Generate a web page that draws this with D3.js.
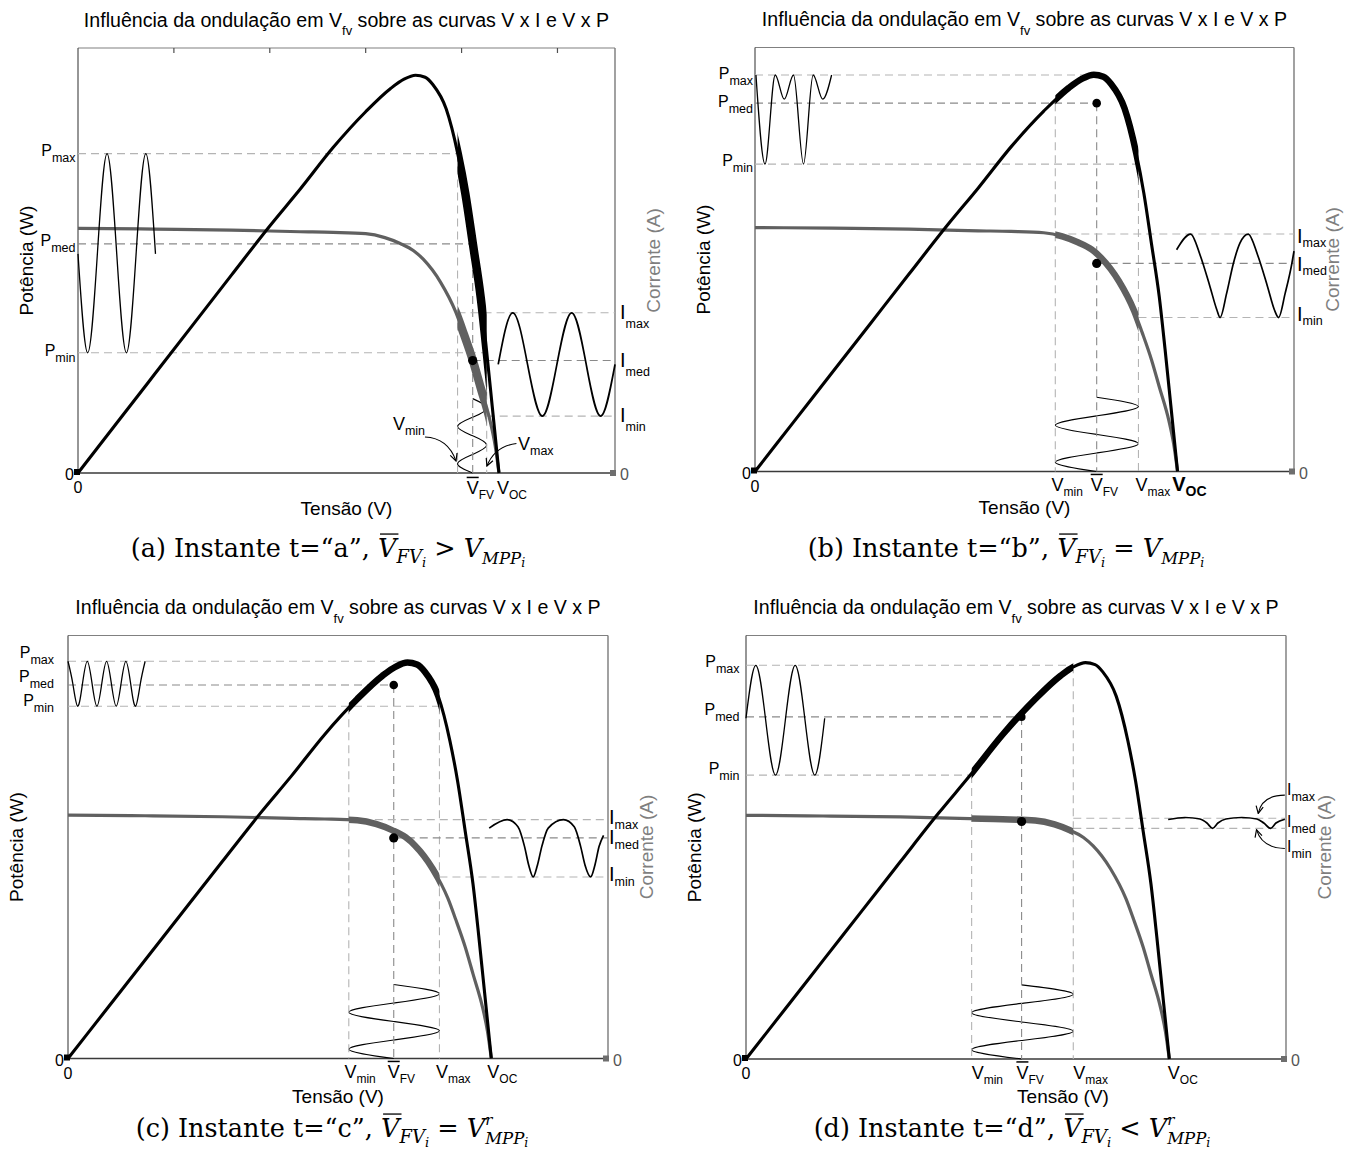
<!DOCTYPE html>
<html>
<head>
<meta charset="utf-8">
<script src="https://cdn.jsdelivr.net/npm/d3@7"></script>
<style>
  body { margin: 0; background: #fff; }
  svg { display: block; }
</style>
</head>
<body>
<svg id="fig" width="1354" height="1160"></svg>
<script>
// ---------------- PV module characteristic ----------------
// Power curve: [voltage (V), power (W)]
const curvePV = [[0,0],[2,7.45],[4,14.9],[6,22.35],[8,29.8],[10,37.2],[11.6,42.8],[13.3,49.0],
  [15.0,54.4],[16.3,57.9],[17.0,59.3],[17.6,59.9],[18.1,59.6],[18.5,58.5],[19.2,54.8],[19.8,48.1],
  [20.2,42.0],[20.6,34.3],[21.0,26.4],[21.3,18.5],[21.6,10.0],[21.95,0]];
// Current curve: [voltage (V), current (A)]
const curveVI = [[0,3.74],[4,3.73],[8,3.715],[11.6,3.69],[13.3,3.68],[15.0,3.66],[16.0,3.6],
  [16.8,3.51],[17.5,3.40],[18.0,3.27],[18.9,2.92],[19.7,2.46],[20.1,2.14],[20.6,1.71],[21.0,1.3],
  [21.5,0.78],[21.75,0.42],[21.95,0]];
const vOC = 21.95;
const vTicks = [5, 10, 15, 20, 25];

// ---------------- operating point of each instant (a, b, c, d) ----------------
const instants = ['a', 'b', 'c', 'd'];
const relation = ['>', '=', '=', '<'];
const refIsR   = [false, false, true, true];
const vMin = [19.79, 15.60, 14.56, 11.70];
const vBar = [20.58, 17.75, 16.89, 14.29];
const vMax = [21.31, 19.92, 19.26, 16.97];
const pMax = [48.1, 59.85, 60.1, 59.5];
const pMed = [34.5, 55.6, 56.5, 51.7];
const pMin = [18.1, 46.4, 53.3, 42.9];
const iMax = [2.45, 3.64, 3.67, 3.695];
const iMed = [1.72, 3.19, 3.39, 3.645];
const iMin = [0.87, 2.36, 2.79, 3.54];

// ---------------- ripple waveforms ----------------
// power ripple drawn against the voltage axis: [V, P]
const pRippleA = [[0,33],[0.505,18.1],[1.01,33],[1.515,48.1],[2.02,33],[2.525,18.1],[3.03,33],[3.535,48.1],[4.04,33]];
const pRippleB = [[0.05,59.85],[0.52,46.4],[1.05,59.85],[1.52,56.2],[2.0,59.85],[2.52,46.4],[3.02,59.85],[3.52,56.2],[3.98,59.85]];
const pRippleC = [[0,60.1],[0.25,56.7],[0.5,53.3],[0.75,56.7],[1.0,60.1],[1.25,56.7],[1.5,53.3],[1.75,56.7],
  [2.0,60.1],[2.25,56.7],[2.5,53.3],[2.75,56.7],[3.0,60.1],[3.25,56.7],[3.5,53.3],[3.75,56.7],[4.0,60.1]];
const pRippleD = [[0,51.5],[0.51,59.5],[1.02,51.2],[1.53,42.9],[2.04,51.2],[2.55,59.5],[3.06,51.2],[3.57,42.9],[4.08,51.5]];
// current ripple: [V, I]
const iRippleA = [[21.91,1.66],[22.67,2.45],[23.44,1.66],[24.21,0.87],[24.97,1.66],[25.74,2.45],[26.5,1.66],[27.25,0.87],[28.0,1.66]];
const iRippleB = [[21.9,3.40],[22.63,3.64],[23.12,3.32],[23.64,2.83],[23.99,2.48],[24.16,2.36],[24.5,2.73],[24.85,3.19],
  [25.19,3.50],[25.62,3.64],[26.11,3.32],[26.63,2.83],[26.98,2.48],[27.2,2.36],[27.54,2.73],[27.89,3.19],[28.0,3.38]];
const iRippleC = [[21.84,3.54],[22.77,3.67],[23.33,3.56],[23.67,3.26],[23.89,2.97],[24.12,2.79],[24.34,2.97],[24.57,3.26],
  [24.9,3.54],[25.69,3.67],[26.25,3.56],[26.58,3.26],[26.81,2.97],[27.1,2.79],[27.32,2.97],[27.54,3.26],[27.77,3.43]];
const iRippleD = [[21.89,3.676],[22.76,3.707],[23.54,3.684],[23.9,3.622],[24.19,3.541],[24.47,3.622],[24.88,3.684],
  [25.71,3.707],[26.49,3.684],[26.85,3.622],[27.2,3.541],[27.48,3.622],[27.94,3.68]];
// voltage ripple drawn upward from the voltage axis: time in power-axis units
const vRippleTime  = [0, 1.4, 2.8, 4.2, 5.6, 7.0, 8.4, 9.8, 11.2];
const vRipplePhase = ['bar','min','bar','max','bar','min','bar','max','bar'];

const pRipple = [pRippleA, pRippleB, pRippleC, pRippleD];
const iRipple = [iRippleA, iRippleB, iRippleC, iRippleD];

// ---------------- layout of the four axes ----------------
const SANS = 'Liberation Sans, Arial, Helvetica, sans-serif';
const SERIF = 'DejaVu Serif, serif';
const GRAY = '#606060';

const frames = [
  { x0: 78,  x1: 615,  yTop: 48,    yBot: 473 },
  { x0: 755, x1: 1294, yTop: 47.5,  yBot: 471.5 },
  { x0: 68,  x1: 608,  yTop: 635.5, yBot: 1058.5 },
  { x0: 746, x1: 1286, yTop: 635.5, yBot: 1059 }
];

const style = [
  { pCurve: 'natural',  iCurve: 'natural',  thick: 8.5,
    pDashEnd: ['min','bar','max'], vDashTop: ['max','med','min'], iDashStart: ['min','bar','max'],
    pLab: { dx: -2.5, dy: [2, 2.5, 3] }, iLab: { dx: 5, dy: [6, 6, 6], size: 20, sub: 9 },
    vLab: [['bar', 0], ['oc', 4]], tensaoDx: 0, tensaoDy: 42, vLabDy: 21, ticks: true, pDotR: 3, capX: 328, capY: 557 },
  { pCurve: 'monotone', iCurve: 'monotone', thick: 6.5,
    pDashEnd: [17.5,'bar','max'], vDashTop: ['med','med','min'], iDashStart: ['min','bar','max'],
    pLab: { dx: -2, dy: [3.6, 4, 1.7] }, iLab: { dx: 3, dy: [8.7, 7.7, 3.7], size: 20, sub: 4 },
    vLab: [['min', 2.3], ['bar', 0], ['max', 3], ['oc', 1.3, true]], tensaoDx: 0, tensaoDy: 42.5, vLabDy: 19.5, ticks: false, pDotR: 4.3, capX: 1006, capY: 557 },
  { pCurve: 'natural',  iCurve: 'monotone', thick: 6.5,
    pDashEnd: [17.5,'bar','max'], vDashTop: ['min','med','min'], iDashStart: ['min','bar','max'],
    pLab: { dx: -14, dy: [-3.7, -3, -0.7] }, iLab: { dx: 1, dy: [4.6, 6.6, 4.5], size: 20, sub: 5 },
    vLab: [['min', 1.6], ['bar', 0], ['max', 2.5], ['oc', 2]], tensaoDx: 0, tensaoDy: 44.5, vLabDy: 19.5, ticks: false, pDotR: 4.3, capX: 332, capY: 1137 },
  { pCurve: 'natural',  iCurve: 'monotone', thick: 6.5,
    pDashEnd: ['max','bar','min'], vDashTop: ['min','med','max'], iDashStart: ['max', null, 'max'],
    pLab: { dx: -6.5, dy: [2, -2, -1] }, iLab: { dx: 1, dy: [-23.3, 5.5, 23.7], size: 16, sub: 6 },
    vLab: [['min', 6], ['bar', 0.8], ['max', 6], ['oc', 4.5]], tensaoDx: 47, tensaoDy: 43.5, vLabDy: 19.5, ticks: false, pDotR: 4, capX: 1012, capY: 1137 }
];

// annotation arrows in data units ([V, P] for panel a, [V, I] for panel d)
const arrowsA = [
  { from: [18.09, 5.42], ctrl: [19.29, 5.27], to: [19.71, 1.81] },
  { from: [22.86, 4.44], ctrl: [21.74, 4.07], to: [21.32, 1.05] }
];
const arrowLabelsA = [{ at: [16.42, 6.47], sub: 'min' }, { at: [22.94, 3.46], sub: 'max' }];
const arrowsD = [
  { from: [27.94, 4.05], ctrl: [26.75, 4.05], to: [26.56, 3.77] },
  { from: [27.94, 3.23], ctrl: [26.75, 3.24], to: [26.47, 3.52] }
];

const svg = d3.select('#fig');
const defs = svg.append('defs');
defs.append('marker')
  .attr('id', 'arrowOpen').attr('viewBox', '0 0 10 10')
  .attr('refX', 9).attr('refY', 5)
  .attr('markerWidth', 9).attr('markerHeight', 9)
  .attr('markerUnits', 'userSpaceOnUse').attr('orient', 'auto')
  .append('path').attr('d', 'M1,1 L9,5 L1,9')
  .attr('fill', 'none').attr('stroke', '#000').attr('stroke-width', 1.3);

// text made of runs (subscripts, superscripts, overlines)
function rich(parent, pieces, x, y, anchor, fam, fill) {
  const g = parent.append('g');
  let cx = 0, lastStart = 0, firstW = 0;
  pieces.forEach((p, k) => {
    const startX = p.back ? lastStart : cx;
    const t = g.append('text')
      .attr('x', startX).attr('y', y + (p.dy || 0))
      .attr('font-family', p.ff || fam)
      .attr('font-size', p.s)
      .attr('font-style', p.it ? 'italic' : null)
      .attr('font-weight', p.b ? 'bold' : null)
      .attr('fill', fill || '#000')
      .style('white-space', 'pre')
      .text(p.t);
    const w = t.node().getComputedTextLength();
    if (p.ov) {
      const oy = y + (p.dy || 0) - p.s * (p.ovy || 0.93);
      g.append('line')
        .attr('x1', startX + (p.ovdx || 0)).attr('x2', startX + w + (p.ovdx || 0))
        .attr('y1', oy).attr('y2', oy)
        .attr('stroke', fill || '#000').attr('stroke-width', p.ovw || 1.3);
    }
    if (k === 0) firstW = w;
    if (!p.back) lastStart = startX;
    cx = p.back ? Math.max(cx, startX + w) : startX + w;
  });
  let shift = 0;
  if (anchor === 'middle') shift = -cx / 2;
  else if (anchor === 'end') shift = -cx;
  else if (anchor === 'first') shift = -firstW / 2;
  g.attr('transform', `translate(${x + shift},0)`);
  return g;
}

const curveOf = name => name === 'natural' ? d3.curveNatural : d3.curveMonotoneX;

instants.forEach((id, k) => {
  const f = frames[k], st = style[k];
  const x  = d3.scaleLinear().domain([0, 28]).range([f.x0, f.x1]);
  const yP = d3.scaleLinear().domain([0, 64]).range([f.yBot, f.yTop]);
  const yI = d3.scaleLinear().domain([0, 6.5]).range([f.yBot, f.yTop]);
  const g = svg.append('g').attr('class', 'panel-' + id);

  const vOf = key => typeof key === 'number' ? key :
    ({ min: vMin[k], bar: vBar[k], max: vMax[k] })[key];
  const pOf = key => ({ max: pMax[k], med: pMed[k], min: pMin[k] })[key];

  // frame
  g.append('line').attr('x1', f.x0).attr('x2', f.x1).attr('y1', f.yTop).attr('y2', f.yTop)
    .attr('stroke', '#808080').attr('stroke-width', 1.2);
  g.append('line').attr('x1', f.x0).attr('x2', f.x0).attr('y1', f.yTop).attr('y2', f.yBot)
    .attr('stroke', '#505050').attr('stroke-width', 1.2);
  g.append('line').attr('x1', f.x1).attr('x2', f.x1).attr('y1', f.yTop).attr('y2', f.yBot)
    .attr('stroke', '#7a7a7a').attr('stroke-width', 1.4);
  g.append('line').attr('x1', f.x0).attr('x2', f.x1).attr('y1', f.yBot).attr('y2', f.yBot)
    .attr('stroke', '#3a3a3a').attr('stroke-width', 1.4);
  if (st.ticks) {
    g.selectAll('.tick').data(vTicks).join('line')
      .attr('x1', d => x(d)).attr('x2', d => x(d))
      .attr('y1', f.yTop).attr('y2', f.yTop + 5)
      .attr('stroke', '#505050').attr('stroke-width', 1.2);
  }

  // voltage ripple
  const vWave = vRippleTime.map((t, j) => [vOf(vRipplePhase[j]), t]);
  g.append('path').datum(vWave)
    .attr('d', d3.line().x(d => x(d[0])).y(d => yP(d[1])).curve(d3.curveNatural))
    .attr('fill', 'none').attr('stroke', '#000').attr('stroke-width', 1.1);

  // guide lines
  const dash = (x1, y1, x2, y2, med) => g.append('line')
    .attr('x1', x1).attr('y1', y1).attr('x2', x2).attr('y2', y2)
    .attr('stroke', med ? '#8a8a8a' : '#b4b4b4').attr('stroke-width', 1.1)
    .attr('stroke-dasharray', '8,5');
  ['max', 'med', 'min'].forEach((lv, j) => {
    dash(x(0), yP(pOf(lv)), x(vOf(st.pDashEnd[j])), yP(pOf(lv)), lv === 'med');
  });
  ['min', 'bar', 'max'].forEach((vk, j) => {
    dash(x(vOf(vk)), yP(pOf(st.vDashTop[j])), x(vOf(vk)), f.yBot, vk === 'bar');
  });
  [iMax[k], iMed[k], iMin[k]].forEach((iv, j) => {
    if (st.iDashStart[j] === null) return;
    dash(x(vOf(st.iDashStart[j])), yI(iv), f.x1, yI(iv), j === 1);
  });

  // ripple window on the curves
  const clipId = 'win-' + id;
  defs.append('clipPath').attr('id', clipId).append('rect')
    .attr('x', x(vMin[k])).attr('width', x(vMax[k]) - x(vMin[k]))
    .attr('y', f.yTop).attr('height', f.yBot - f.yTop);

  const lineI = d3.line().x(d => x(d[0])).y(d => yI(d[1])).curve(d3.curveMonotoneX);
  const lineP = d3.line().x(d => x(d[0])).y(d => yP(d[1])).curve(d3.curveMonotoneX);

  g.append('path').datum(curveVI).attr('d', lineI)
    .attr('fill', 'none').attr('stroke', GRAY).attr('stroke-width', 3.2);
  g.append('path').datum(curveVI).attr('d', lineI).attr('clip-path', `url(#${clipId})`)
    .attr('fill', 'none').attr('stroke', GRAY).attr('stroke-width', st.thick);
  g.append('path').datum(curvePV).attr('d', lineP)
    .attr('fill', 'none').attr('stroke', '#000').attr('stroke-width', 3.1);
  g.append('path').datum(curvePV).attr('d', lineP).attr('clip-path', `url(#${clipId})`)
    .attr('fill', 'none').attr('stroke', '#000').attr('stroke-width', st.thick);

  // power and current ripples
  g.append('path').datum(pRipple[k])
    .attr('d', d3.line().x(d => x(d[0])).y(d => yP(d[1])).curve(curveOf(st.pCurve)))
    .attr('fill', 'none').attr('stroke', '#000').attr('stroke-width', 1.3);
  g.append('path').datum(iRipple[k])
    .attr('d', d3.line().x(d => x(d[0])).y(d => yI(d[1])).curve(curveOf(st.iCurve)))
    .attr('fill', 'none').attr('stroke', '#000').attr('stroke-width', 1.7);

  // mean operating points
  g.append('circle').attr('cx', x(vBar[k])).attr('cy', yP(pMed[k])).attr('r', st.pDotR).attr('fill', '#000');
  g.append('circle').attr('cx', x(vBar[k])).attr('cy', yI(iMed[k])).attr('r', 4.6).attr('fill', '#000');

  // end markers of the axes
  g.append('rect').attr('x', f.x0 - 4).attr('y', f.yBot - 4).attr('width', 6).attr('height', 6).attr('fill', '#000');
  g.append('rect').attr('x', f.x1 - 5).attr('y', f.yBot - 3).attr('width', 6).attr('height', 6).attr('fill', '#6e6e6e');

  // title
  rich(g, [
    { t: 'Influência da ondulação em V', s: 19.6 },
    { t: 'fv', s: 13, dy: 8.5 },
    { t: ' sobre as curvas V x I e V x P', s: 19.6 }
  ], (f.x0 + f.x1) / 2, f.yTop - 21.5, 'middle', SANS);

  // axis titles
  const yc = (f.yTop + f.yBot) / 2;
  g.append('text').attr('transform', `translate(${f.x0 - 45},${yc}) rotate(-90)`)
    .attr('text-anchor', 'middle').attr('font-family', SANS).attr('font-size', 19)
    .text('Potência (W)');
  g.append('text').attr('transform', `translate(${f.x1 + 45},${yc}) rotate(-90)`)
    .attr('text-anchor', 'middle').attr('font-family', SANS).attr('font-size', 19)
    .attr('fill', '#7f7f7f').text('Corrente (A)');
  g.append('text').attr('x', (f.x0 + f.x1) / 2 + st.tensaoDx).attr('y', f.yBot + st.tensaoDy)
    .attr('text-anchor', 'middle').attr('font-family', SANS).attr('font-size', 19)
    .text('Tensão (V)');

  // zero labels
  g.append('text').attr('x', f.x0 - 4).attr('y', f.yBot + 7).attr('text-anchor', 'end')
    .attr('font-family', SANS).attr('font-size', 16).text('0');
  g.append('text').attr('x', f.x1 + 5).attr('y', f.yBot + 7)
    .attr('font-family', SANS).attr('font-size', 16).attr('fill', '#555').text('0');
  g.append('text').attr('x', f.x0).attr('y', f.yBot + 20).attr('text-anchor', 'middle')
    .attr('font-family', SANS).attr('font-size', 16).text('0');

  // power level labels
  ['max', 'med', 'min'].forEach((lv, j) => {
    rich(g, [{ t: 'P', s: 16 }, { t: lv, s: 12.5, dy: 6 }],
      f.x0 + st.pLab.dx, yP(pOf(lv)) + st.pLab.dy[j], 'end', SANS);
  });
  // current level labels
  [['max', iMax[k]], ['med', iMed[k]], ['min', iMin[k]]].forEach(([lv, iv], j) => {
    rich(g, [{ t: 'I', s: st.iLab.size }, { t: lv, s: 12.5, dy: st.iLab.sub, ff: SANS }],
      f.x1 + st.iLab.dx, yI(iv) + st.iLab.dy[j], 'start', SANS);
  });

  // voltage labels on the axis
  st.vLab.forEach(([key, dx, bold]) => {
    const v = key === 'oc' ? vOC : vOf(key);
    const sub = ({ min: 'min', bar: 'FV', max: 'max', oc: 'OC' })[key];
    rich(g, [
      { t: 'V', s: bold ? 20 : 18, b: bold, ov: key === 'bar', ovy: 0.92, ovw: 1.5 },
      { t: sub, s: bold ? 14 : 12, dy: 5, b: bold }
    ], x(v) + dx, f.yBot + st.vLabDy, 'first', SANS);
  });

  // caption
  const math = [
    { t: `(${id}) Instante t=“${id}”, `, s: 25.5 },
    { t: 'V', s: 25.5, it: true, ov: true, ovy: 0.9, ovdx: 2, ovw: 1.3 },
    { t: 'FV', s: 18, dy: 6, it: true },
    { t: 'i', s: 13, dy: 9.5, it: true },
    { t: ` ${relation[k]} `, s: 25.5 },
    { t: 'V', s: 25.5, it: true }
  ];
  if (refIsR[k]) math.push({ t: 'r', s: 15, dy: -12, it: true });
  math.push({ t: 'MPP', s: 16.5, dy: 7, it: true, back: refIsR[k] });
  math.push({ t: 'i', s: 12.5, dy: 10, it: true });
  rich(svg, math, st.capX, st.capY, 'middle', SERIF);

  // ripple-limit annotations
  if (id === 'a') {
    arrowsA.forEach(a => {
      g.append('path')
        .attr('d', `M${x(a.from[0])},${yP(a.from[1])} Q${x(a.ctrl[0])},${yP(a.ctrl[1])} ${x(a.to[0])},${yP(a.to[1])}`)
        .attr('fill', 'none').attr('stroke', '#000').attr('stroke-width', 1.1)
        .attr('marker-end', 'url(#arrowOpen)');
    });
    arrowLabelsA.forEach(l => {
      rich(g, [{ t: 'V', s: 18 }, { t: l.sub, s: 12.5, dy: 5 }], x(l.at[0]), yP(l.at[1]), 'start', SANS);
    });
  }
  if (id === 'd') {
    arrowsD.forEach(a => {
      g.append('path')
        .attr('d', `M${x(a.from[0])},${yI(a.from[1])} Q${x(a.ctrl[0])},${yI(a.ctrl[1])} ${x(a.to[0])},${yI(a.to[1])}`)
        .attr('fill', 'none').attr('stroke', '#000').attr('stroke-width', 1.1)
        .attr('marker-end', 'url(#arrowOpen)');
    });
  }
});
</script>
</body>
</html>
